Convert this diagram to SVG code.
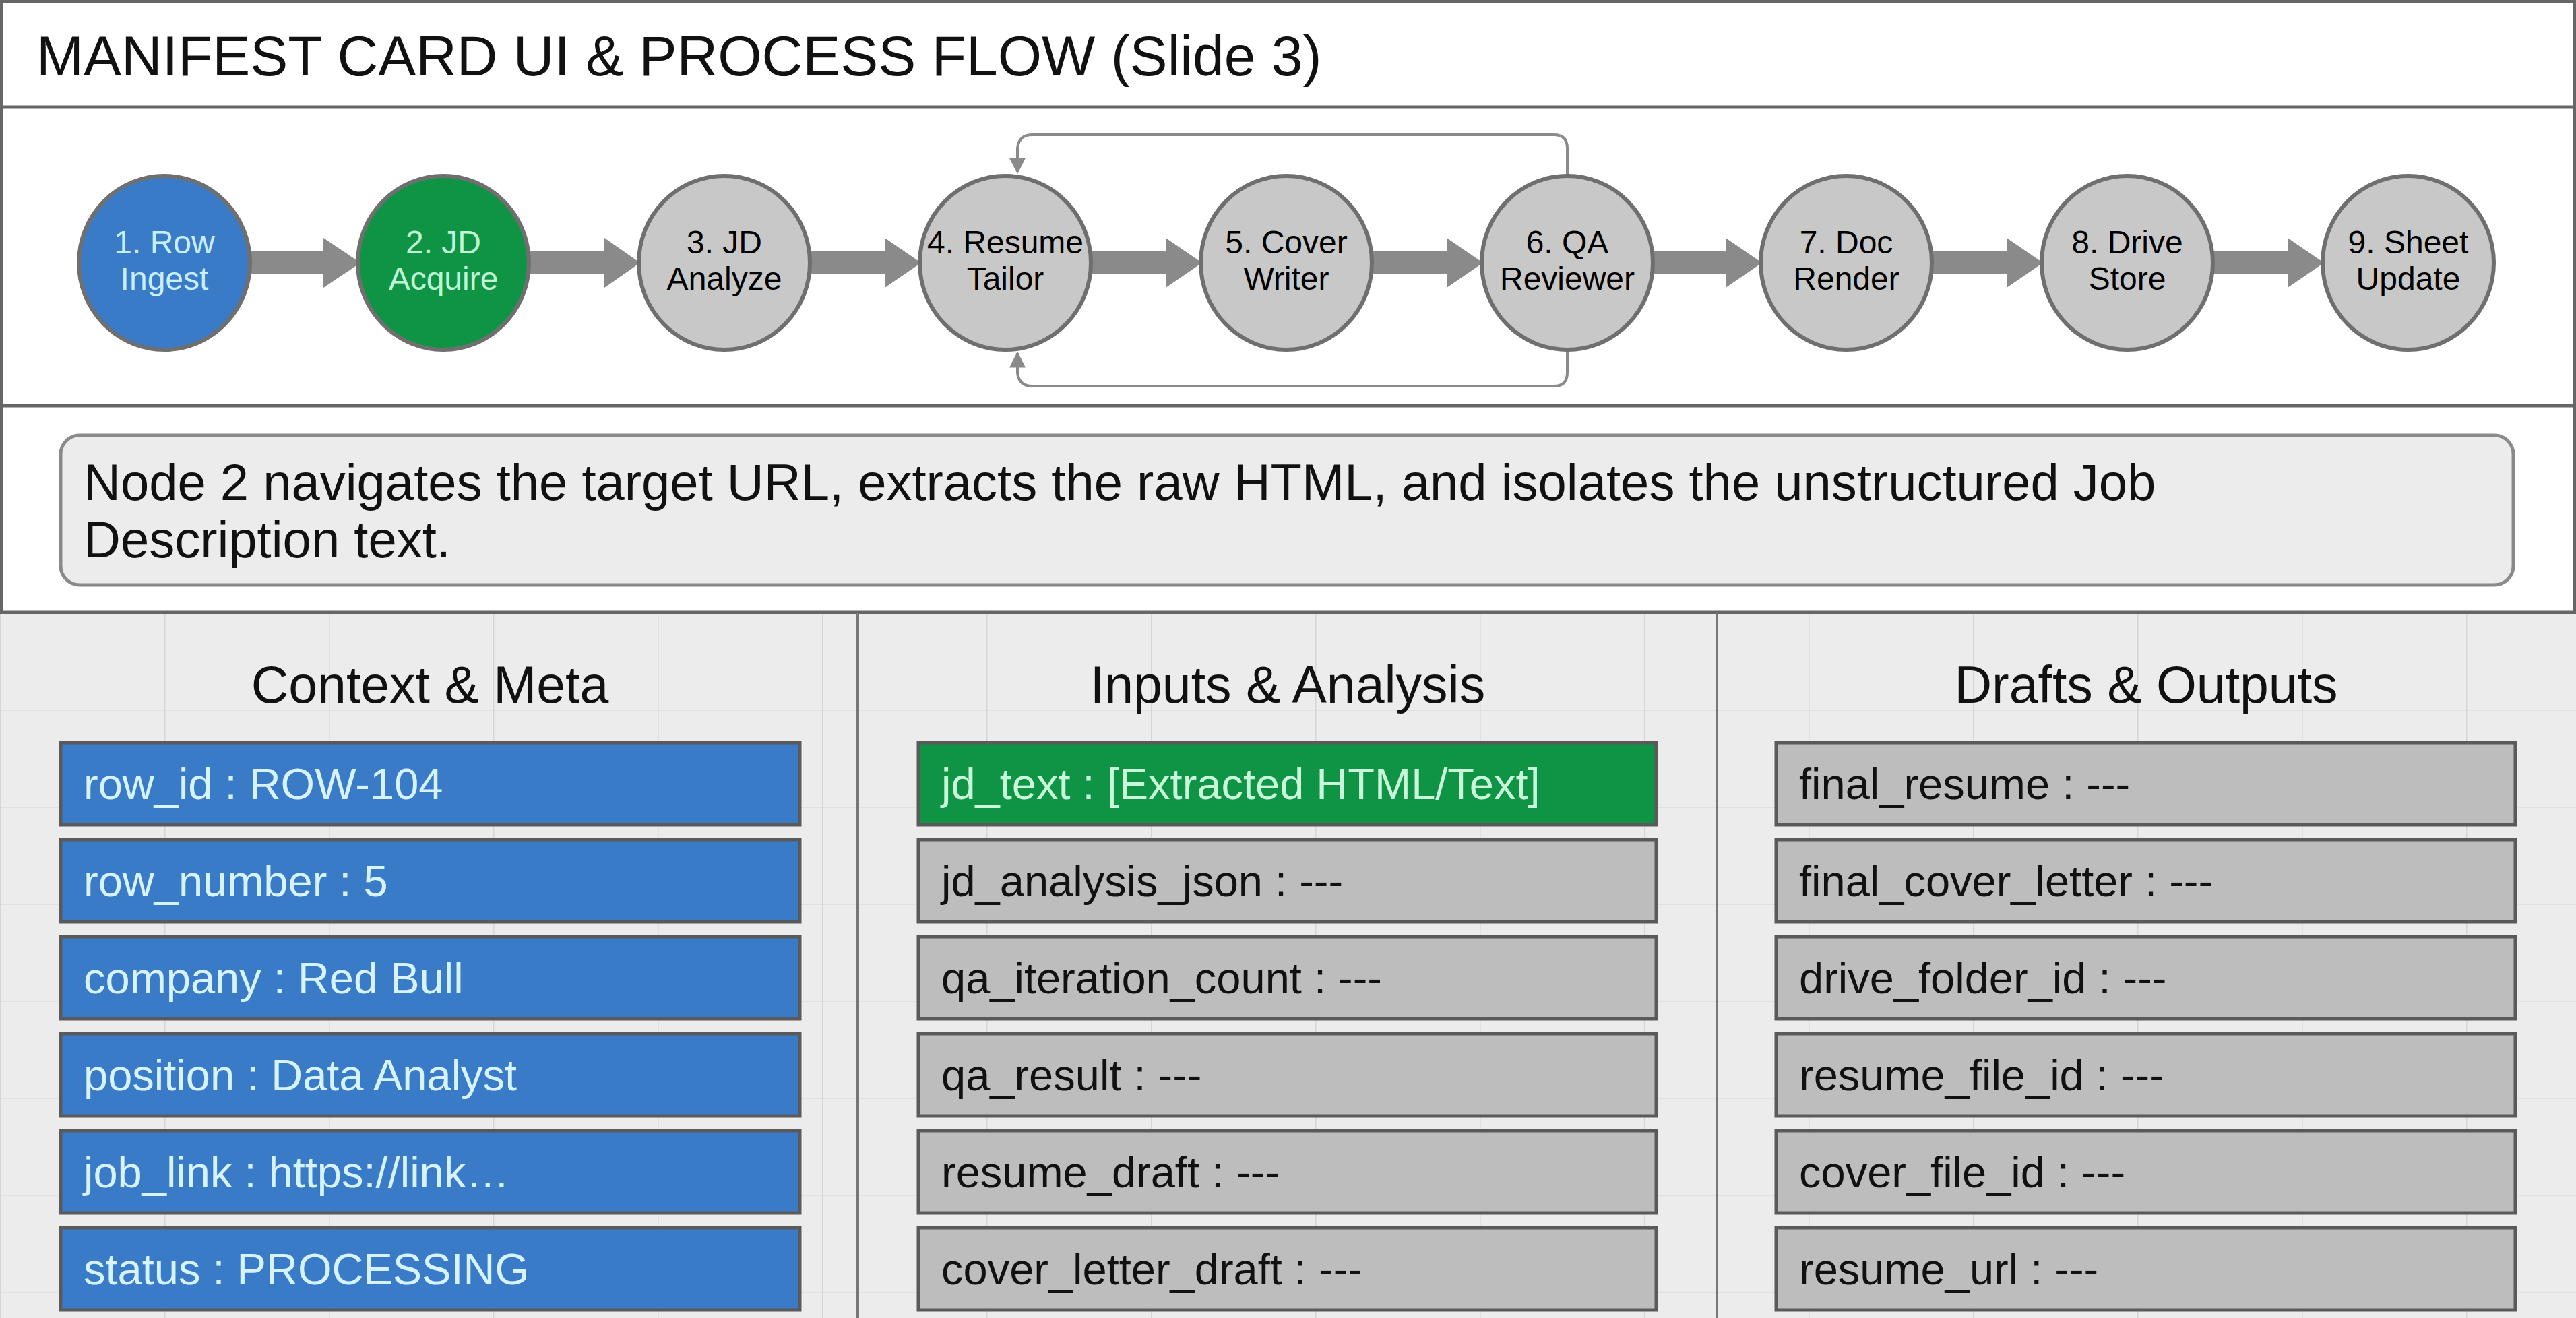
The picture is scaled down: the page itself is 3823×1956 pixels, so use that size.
<svg xmlns="http://www.w3.org/2000/svg" width="3823" height="1956" viewBox="0 0 3823 1956">
<defs>
<style>
text{font-family:"Liberation Sans",Arial,sans-serif}
.node{stroke:#6f6f6f;stroke-width:6}
.nt{font-size:48px;text-anchor:middle}
.row{stroke:#5a5a5a;stroke-width:5}
.rt{font-size:65px}
.hd{font-size:77px;text-anchor:middle;fill:#111}
.blk{fill:#8a8a8a}
.loop{fill:none;stroke:#8a8a8a;stroke-width:4}
</style>
<pattern id="grid" x="0" y="909" width="244" height="144" patternUnits="userSpaceOnUse">
<rect width="244" height="144" fill="#ececec"/>
<path d="M0,0 V144 M0,0 H244" stroke="#d6d6d6" stroke-width="3"/>
</pattern>
<marker id="ah" viewBox="0 0 10 10" refX="9" refY="5" markerWidth="6" markerHeight="6" orient="auto"><path d="M0,0 L10,5 L0,10 z" fill="#8a8a8a"/></marker>
</defs>
<rect width="3823" height="1956" fill="#ffffff"/>
<g id="title">
<text x="54" y="112" font-size="84" fill="#111">MANIFEST CARD UI &amp; PROCESS FLOW (Slide 3)</text>
<line x1="0" y1="159" x2="3823" y2="159" stroke="#666" stroke-width="5"/>
</g>
<rect x="2" y="2" width="3819" height="1952" fill="none" stroke="#666" stroke-width="4"/>
<line x1="0" y1="602" x2="3823" y2="602" stroke="#666" stroke-width="5"/>
<g id="connectors">
<g class="blk">
<path d="M371,373 H480 V353 L535,390 L480,427 V407 H371 z"/>
<path d="M785,373 H897 V353 L950,390 L897,427 V407 H785 z"/>
<path d="M1202,373 H1313 V353 L1367,390 L1313,427 V407 H1202 z"/>
<path d="M1619,373 H1730 V353 L1784,390 L1730,427 V407 H1619 z"/>
<path d="M2036,373 H2147 V353 L2201,390 L2147,427 V407 H2036 z"/>
<path d="M2453,373 H2561 V353 L2615,390 L2561,427 V407 H2453 z"/>
<path d="M2867,373 H2978 V353 L3032,390 L2978,427 V407 H2867 z"/>
<path d="M3284,373 H3395 V353 L3449,390 L3395,427 V407 H3284 z"/>
</g>
<path class="loop" d="M2326,262 V220 Q2326,200 2306,200 H1532 Q1512,200 1510,220 V256" marker-end="url(#ah)"/>
<path class="loop" d="M2326,518 V553 Q2326,573 2306,573 H1532 Q1512,573 1510,553 V524" marker-end="url(#ah)"/>
</g>
<g id="n1"><ellipse class="node" cx="244" cy="390" rx="127" ry="129" fill="#3a7bc8"/><text class="nt" x="244" y="376" fill="#c8eeff">1. Row</text><text class="nt" x="244" y="430" fill="#c8eeff">Ingest</text></g>
<g id="n2"><ellipse class="node" cx="658" cy="390" rx="127" ry="129" fill="#0f9446"/><text class="nt" x="658" y="376" fill="#c0f5d5">2. JD</text><text class="nt" x="658" y="430" fill="#c0f5d5">Acquire</text></g>
<g id="n3"><ellipse class="node" cx="1075" cy="390" rx="127" ry="129" fill="#c8c8c8"/><text class="nt" x="1075" y="376">3. JD</text><text class="nt" x="1075" y="430">Analyze</text></g>
<g id="n4"><ellipse class="node" cx="1492" cy="390" rx="127" ry="129" fill="#c8c8c8"/><text class="nt" x="1492" y="376">4. Resume</text><text class="nt" x="1492" y="430">Tailor</text></g>
<g id="n5"><ellipse class="node" cx="1909" cy="390" rx="127" ry="129" fill="#c8c8c8"/><text class="nt" x="1909" y="376">5. Cover</text><text class="nt" x="1909" y="430">Writer</text></g>
<g id="n6"><ellipse class="node" cx="2326" cy="390" rx="127" ry="129" fill="#c8c8c8"/><text class="nt" x="2326" y="376">6. QA</text><text class="nt" x="2326" y="430">Reviewer</text></g>
<g id="n7"><ellipse class="node" cx="2740" cy="390" rx="127" ry="129" fill="#c8c8c8"/><text class="nt" x="2740" y="376">7. Doc</text><text class="nt" x="2740" y="430">Render</text></g>
<g id="n8"><ellipse class="node" cx="3157" cy="390" rx="127" ry="129" fill="#c8c8c8"/><text class="nt" x="3157" y="376">8. Drive</text><text class="nt" x="3157" y="430">Store</text></g>
<g id="n9"><ellipse class="node" cx="3574" cy="390" rx="127" ry="129" fill="#c8c8c8"/><text class="nt" x="3574" y="376">9. Sheet</text><text class="nt" x="3574" y="430">Update</text></g>
<g id="desc">
<rect x="90" y="646" width="3640" height="222" rx="28" fill="#ececec" stroke="#8a8a8a" stroke-width="5"/>
<text x="124" y="742" font-size="76" fill="#111">Node 2 navigates the target URL, extracts the raw HTML, and isolates the unstructured Job</text>
<text x="124" y="827" font-size="76" fill="#111">Description text.</text>
</g>
<line x1="0" y1="909" x2="3823" y2="909" stroke="#666" stroke-width="5"/>
<rect x="0" y="911" width="3823" height="1045" fill="url(#grid)"/>
<line x1="1273" y1="909" x2="1273" y2="1956" stroke="#777" stroke-width="4"/>
<line x1="2548" y1="909" x2="2548" y2="1956" stroke="#777" stroke-width="4"/>
<g id="col1">
<text class="hd" x="638" y="1043">Context &amp; Meta</text>
<g fill="#3a7bc8" class="row"><rect x="90" y="1102" width="1097" height="122"/><rect x="90" y="1246" width="1097" height="122"/><rect x="90" y="1390" width="1097" height="122"/><rect x="90" y="1534" width="1097" height="122"/><rect x="90" y="1678" width="1097" height="122"/><rect x="90" y="1822" width="1097" height="122"/></g>
<g fill="#d6f3ff" class="rt"><text x="124" y="1186">row_id : ROW-104</text><text x="124" y="1330">row_number : 5</text><text x="124" y="1474">company : Red Bull</text><text x="124" y="1618">position : Data Analyst</text><text x="124" y="1762">job_link : https://link…</text><text x="124" y="1906">status : PROCESSING</text></g>
</g>
<g id="col2">
<text class="hd" x="1911" y="1043">Inputs &amp; Analysis</text>
<g class="row"><rect x="1363" y="1102" width="1095" height="122" fill="#0f9446"/><g fill="#bdbdbd"><rect x="1363" y="1246" width="1095" height="122"/><rect x="1363" y="1390" width="1095" height="122"/><rect x="1363" y="1534" width="1095" height="122"/><rect x="1363" y="1678" width="1095" height="122"/><rect x="1363" y="1822" width="1095" height="122"/></g></g>
<g class="rt" fill="#111"><text x="1397" y="1186" fill="#c8f7da">jd_text : [Extracted HTML/Text]</text><text x="1397" y="1330">jd_analysis_json : ---</text><text x="1397" y="1474">qa_iteration_count : ---</text><text x="1397" y="1618">qa_result : ---</text><text x="1397" y="1762">resume_draft : ---</text><text x="1397" y="1906">cover_letter_draft : ---</text></g>
</g>
<g id="col3">
<text class="hd" x="3185" y="1043">Drafts &amp; Outputs</text>
<g class="row" fill="#bdbdbd"><rect x="2636" y="1102" width="1097" height="122"/><rect x="2636" y="1246" width="1097" height="122"/><rect x="2636" y="1390" width="1097" height="122"/><rect x="2636" y="1534" width="1097" height="122"/><rect x="2636" y="1678" width="1097" height="122"/><rect x="2636" y="1822" width="1097" height="122"/></g>
<g class="rt" fill="#111"><text x="2670" y="1186">final_resume : ---</text><text x="2670" y="1330">final_cover_letter : ---</text><text x="2670" y="1474">drive_folder_id : ---</text><text x="2670" y="1618">resume_file_id : ---</text><text x="2670" y="1762">cover_file_id : ---</text><text x="2670" y="1906">resume_url : ---</text></g>
</g>
</svg>
